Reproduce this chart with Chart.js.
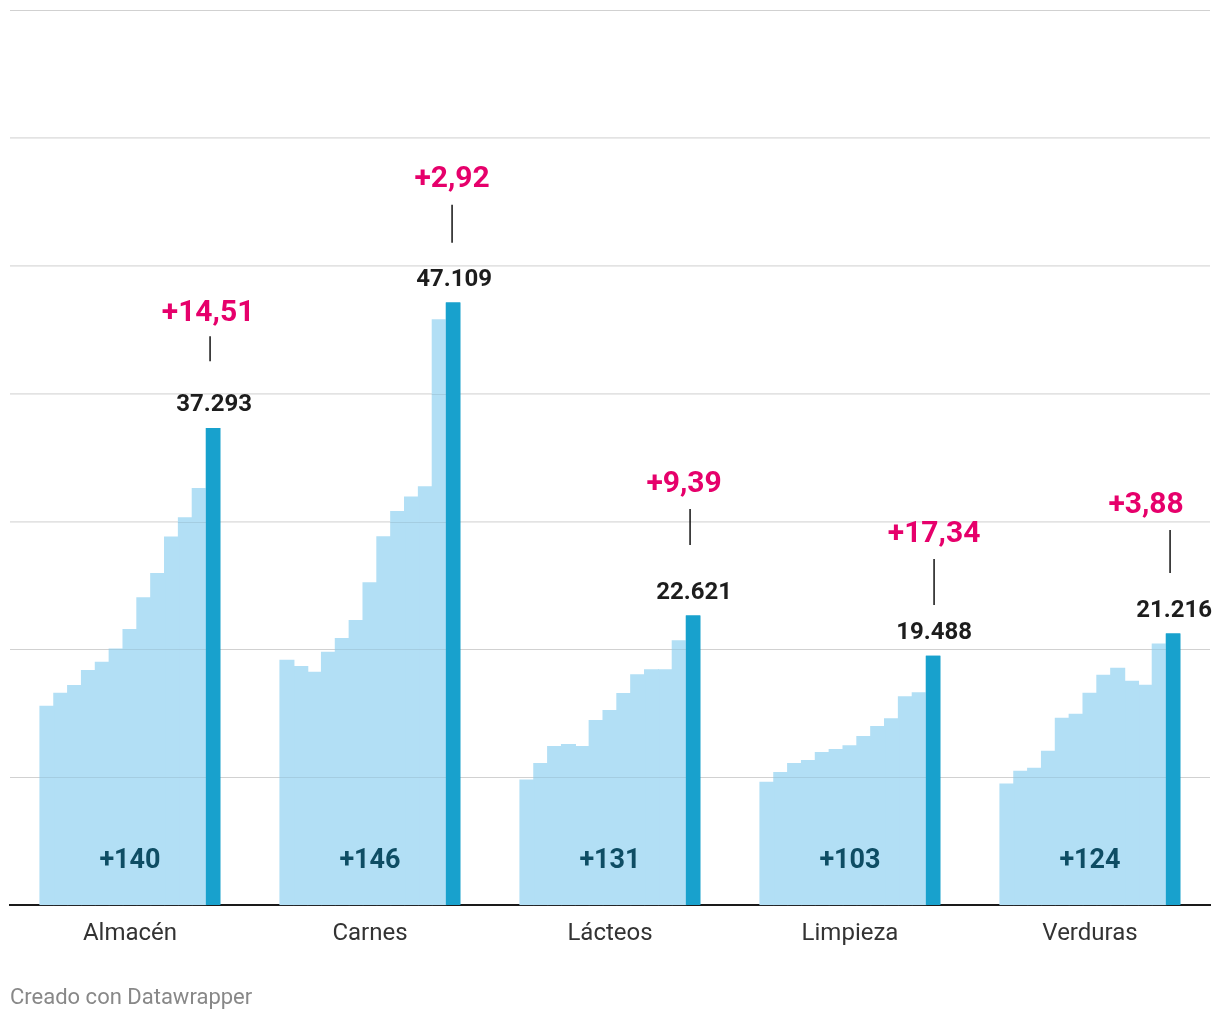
<!DOCTYPE html>
<html lang="es">
<head>
<meta charset="utf-8">
<title>Precios por rubro</title>
<script src="https://cdn.jsdelivr.net/npm/chart.js@4/dist/chart.umd.min.js"></script>
<style>
  html, body { margin: 0; padding: 0; background: #fff; }
  #wrap { position: relative; width: 1220px; height: 1020px; }
  #footer {
    position: absolute; left: 10px; top: 984px;
    font: 22px Roboto, sans-serif; color: #888;
  }
</style>
</head>
<body>
<div id="wrap">
  <canvas id="myChart"></canvas>
  <div id="footer">Creado con Datawrapper</div>
</div>
<script>
let rubros = ['Almacén', 'Carnes', 'Lácteos', 'Limpieza', 'Verduras'];

// 12 periodos anteriores (barras claras), uno por rubro en cada array
let periodos = [
    [15540, 19150, 9790, 9600, 9470],
    [16560, 18660, 11070, 10370, 10470],
    [17170, 18200, 12400, 11070, 10700],
    [18340, 19770, 12550, 11300, 12030],
    [18980, 20840, 12400, 11930, 14610],
    [20030, 22260, 14430, 12160, 14920],
    [21560, 25210, 15210, 12470, 16560],
    [24040, 28810, 16540, 13180, 17970],
    [25920, 30770, 18020, 13960, 18520],
    [28790, 31920, 18410, 14580, 17500],
    [30290, 32720, 18410, 16300, 17190],
    [32570, 45770, 20680, 16610, 20420]
];
let valorActual = [37293, 47109, 22621, 19488, 21216];
let subaMensual = [14.51, 2.92, 9.39, 17.34, 3.88];
let subaTotal = [140, 146, 131, 103, 124];

// ubicación de las notas respecto de la barra actual (px)
let notaDx = [-5, -1, -9, 1, -27];
let lineaDx = [-3, -1, -3, 1, -3];
let lineaArriba = [92, 98, 107, 97, 104];
let lineaAbajo = [67, 60, 71, 51, 61];
let notaArriba = [115, 123, 131, 121, 128];

function miles(n) {
    return String(n).replace(/\B(?=(\d{3})+(?!\d))/g, '.');
}

let datasets = periodos.map((vals, i) => ({
    label: 'Periodo ' + (i + 1),
    data: vals,
    backgroundColor: '#b2dff5',
    borderWidth: 0,
    inflateAmount: 0.6
}));
datasets.push({
    label: 'Actual',
    data: valorActual,
    backgroundColor: '#18a1cd',
    borderWidth: 0,
    inflateAmount: 0.3
});

// la grilla se ve a través de las barras claras; la barra oscura se vuelve a dibujar encima
let grillaSobreClaras = {
    id: 'grillaSobreClaras',
    afterDatasetsDraw(chart) {
        let c = chart.ctx;
        let area = chart.chartArea;
        let ys = chart.scales.y;
        c.save();
        c.strokeStyle = 'rgba(0, 0, 0, 0.08)';
        c.lineWidth = 1;
        ys.ticks.forEach(t => {
            if (t.value === 0) return;
            let y = Math.round(ys.getPixelForValue(t.value)) + 0.5;
            c.beginPath();
            c.moveTo(area.left, y);
            c.lineTo(area.right, y);
            c.stroke();
        });
        chart.getDatasetMeta(datasets.length - 1).data.forEach(el => el.draw(c, area));
        c.restore();
    }
};

let notas = {
    id: 'notas',
    afterDatasetsDraw(chart) {
        let c = chart.ctx;
        let xs = chart.scales.x;
        let bottom = chart.chartArea.bottom;
        let meta = chart.getDatasetMeta(datasets.length - 1);
        c.save();
        c.textAlign = 'center';
        c.textBaseline = 'middle';
        meta.data.forEach((bar, i) => {
            let x = bar.x, y = bar.y;
            // valor actual
            c.fillStyle = '#1d1d1d';
            c.font = 'bold 24px Roboto';
            c.fillText(miles(valorActual[i]), x + 1, y - 23);
            // línea
            c.strokeStyle = '#111';
            c.lineWidth = 1.5;
            c.beginPath();
            c.moveTo(x + lineaDx[i], y - lineaArriba[i]);
            c.lineTo(x + lineaDx[i], y - lineaAbajo[i]);
            c.stroke();
            // suba mensual
            c.fillStyle = '#e6006b';
            c.font = 'bold 30px Roboto';
            c.fillText('+' + subaMensual[i].toFixed(2).replace('.', ','), x + notaDx[i], y - notaArriba[i]);
            // suba total
            c.fillStyle = '#0e4d64';
            c.font = 'bold 27px Roboto';
            c.fillText('+' + subaTotal[i], xs.getPixelForValue(i), bottom - 44);
        });
        c.restore();
    }
};

let ctx = document.getElementById('myChart').getContext('2d');
let myChart = new Chart(ctx, {
    type: 'bar',
    data: { labels: rubros, datasets: datasets },
    options: {
        responsive: true,
        maintainAspectRatio: false,
        animation: false,
        layout: { padding: { left: 10, right: 10, top: 10, bottom: 58 } },
        plugins: {
            legend: { display: false },
            tooltip: { enabled: false }
        },
        datasets: { bar: { categoryPercentage: 0.75, barPercentage: 1.0 } },
        scales: {
            x: {
                z: 1,
                grid: { display: false, drawTicks: false },
                border: { display: true, color: '#1a1a1a', width: 2 },
                ticks: { color: '#333', font: { family: 'Roboto', size: 24 }, padding: 14 }
            },
            y: {
                min: 0,
                max: 70000,
                ticks: { display: false, stepSize: 10000 },
                grid: { color: '#e3e3e3', lineWidth: 1, drawTicks: false },
                border: { display: false }
            }
        }
    },
    plugins: [grillaSobreClaras, notas]
});
</script>
</body>
</html>
